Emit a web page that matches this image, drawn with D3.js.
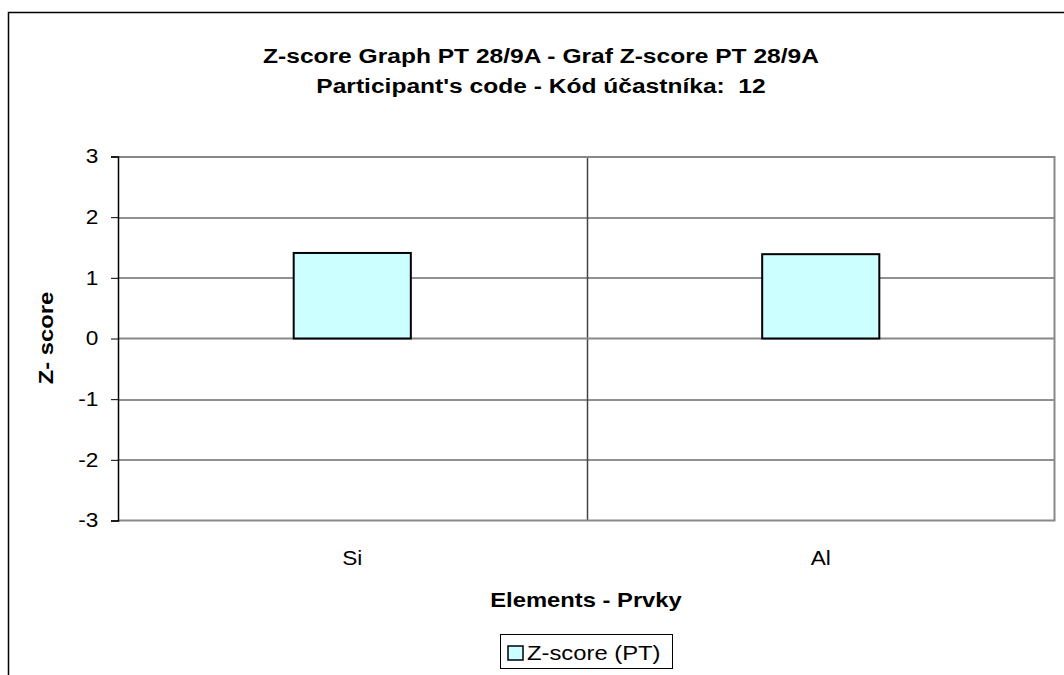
<!DOCTYPE html>
<html>
<head>
<meta charset="utf-8">
<script src="https://cdn.jsdelivr.net/npm/d3@7"></script>
<style>
  body { margin: 0; background: #fff; }
  svg { display: block; font-family: "Liberation Sans", Arial, sans-serif; }
</style>
</head>
<body>
<div id="chart"></div>
<script>
// values
var elements = ["Si", "Al"];
var zScores = [1.41, 1.39];
var yTicks = [-3, -2, -1, 0, 1, 2, 3];
var titleLines = ["Z-score Graph PT 28/9A - Graf Z-score PT 28/9A",
                  "Participant's code - Kód účastníka:\u00a0 12"];
var seriesName = "Z-score (PT)";

var W = 1064, H = 675;
var margin = {top: 156.5, right: 9, bottom: 154.5, left: 118};
var width = W - margin.left - margin.right,
    height = H - margin.top - margin.bottom;
var stretch = 1.16; // the reference text is a bit wider than plain Arial

var svg = d3.select("#chart").append("svg")
    .attr("width", W)
    .attr("height", H);

// put a text at (x,y), widened along its own direction
function label(parent, x, y, txt, size, opts) {
  opts = opts || {};
  var sx = opts.sx || stretch;
  var rot = opts.rotate ? " rotate(" + opts.rotate + ")" : "";
  return parent.append("text")
      .attr("transform", "translate(" + x + "," + y + ")" + rot + " scale(" + sx + ",1)")
      .attr("text-anchor", opts.anchor || "middle")
      .attr("font-size", size + "px")
      .attr("font-weight", opts.bold ? "bold" : null)
      .attr("fill", "#000")
      .text(txt);
}

// outer chart border (runs off the right and bottom edges)
svg.append("rect")
    .attr("x", 8.5).attr("y", 12.5)
    .attr("width", 1080).attr("height", 700)
    .attr("fill", "none").attr("stroke", "#000").attr("stroke-width", 1.5);

var g = svg.append("g")
    .attr("transform", "translate(" + margin.left + "," + margin.top + ")");

var x = d3.scaleBand().domain(elements).range([0, width]).paddingInner(0).paddingOuter(0);
var y = d3.scaleLinear().domain([-3, 3]).range([height, 0]);

// gridlines
g.selectAll("line.grid")
    .data(yTicks.filter(function(d) { return d !== 0 && d !== -3 && d !== 3; }))
  .enter().append("line")
    .attr("class", "grid")
    .attr("x1", 0).attr("x2", width)
    .attr("y1", function(d) { return Math.round(y(d)) + 0.5; })
    .attr("y2", function(d) { return Math.round(y(d)) + 0.5; })
    .attr("stroke", "#222").attr("stroke-width", 1);

// category divider
elements.slice(1).forEach(function(e) {
  var xx = Math.round(x(e)) + 0.5;
  g.append("line")
      .attr("x1", xx).attr("x2", xx).attr("y1", 0).attr("y2", height)
      .attr("stroke", "#444").attr("stroke-width", 1.5);
});

// plot area border (top / right / bottom gray)
g.append("path")
    .attr("d", "M0," + 0.5 + "H" + (width - 0.5) + "V" + height + "H0")
    .attr("fill", "none").attr("stroke", "#888").attr("stroke-width", 2);

// zero line
g.append("line")
    .attr("x1", 0).attr("x2", width)
    .attr("y1", y(0)).attr("y2", y(0))
    .attr("stroke", "#888").attr("stroke-width", 2);

// bars
var barW = x.bandwidth() / 4;
g.selectAll("rect.bar")
    .data(zScores)
  .enter().append("rect")
    .attr("class", "bar")
    .attr("x", function(d, i) { return x(elements[i]) + (x.bandwidth() - barW) / 2; })
    .attr("y", function(d) { return y(Math.max(0, d)); })
    .attr("width", barW)
    .attr("height", function(d) { return Math.abs(y(d) - y(0)); })
    .attr("fill", "#ccffff")
    .attr("stroke", "#000").attr("stroke-width", 2);

// y axis
var yAxis = g.append("g")
    .call(d3.axisLeft(y).tickValues(yTicks).tickSize(7).tickPadding(10)
      .tickFormat(function(d) { return String(d); }));
yAxis.select(".domain").attr("stroke", "#000").attr("stroke-width", 1.5);
yAxis.selectAll(".tick line").attr("stroke", "#000");
yAxis.selectAll(".tick text")
    .attr("font-size", "19.5px").attr("fill", "#000")
    .attr("font-family", "Liberation Sans, Arial, sans-serif")
    .attr("transform", "scale(" + stretch + ",1)");

// x labels
elements.forEach(function(e) {
  label(g, x(e) + x.bandwidth() / 2, height + 44, e, 19.5);
});

// titles
titleLines.forEach(function(t, i) {
  label(svg, 541, 63 + i * 30, t, 21, {bold: true, sx: 1.17});
});

label(svg, 586, 607, "Elements - Prvky", 20.5, {bold: true});
label(svg, 53, 338, "Z- score", 20.5, {bold: true, rotate: -90});

// legend
var lg = svg.append("g").attr("transform", "translate(500,634)");
lg.append("rect")
    .attr("x", 0.5).attr("y", 0.5).attr("width", 172).attr("height", 34)
    .attr("fill", "#fff").attr("stroke", "#000").attr("stroke-width", 1);
lg.append("rect")
    .attr("x", 8).attr("y", 12).attr("width", 15).attr("height", 14)
    .attr("fill", "#ccffff").attr("stroke", "#000").attr("stroke-width", 1.5);
label(lg, 27, 26, seriesName, 20, {anchor: "start", sx: 1.19});
</script>
</body>
</html>
